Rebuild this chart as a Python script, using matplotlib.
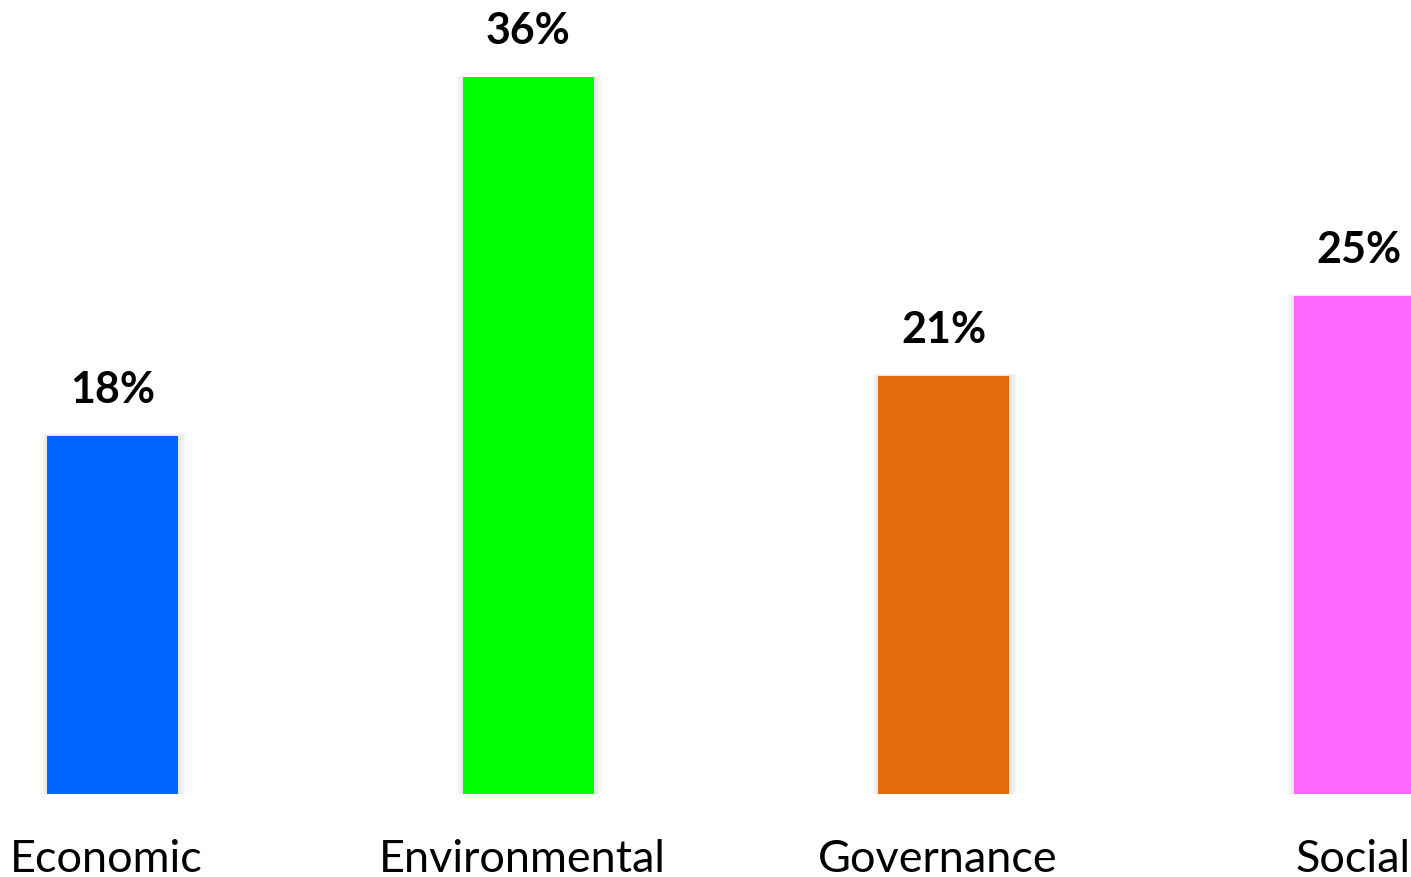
import matplotlib.pyplot as plt

categories = ["Economic", "Environmental", "Governance", "Social"]
values = [18, 36, 21, 25]
colors = ["#0066FF", "#00FF00", "#E36C0A", "#FF66FF"]

plt.rcParams['font.family'] = ['Lato', 'DejaVu Sans']

fig = plt.figure(figsize=(14.11, 8.78), dpi=100)
ax = fig.add_axes([0, 83 / 878, 1, 717 / 878])

x = list(range(len(categories)))
bar_w = 131 / 415.5

# soft shadow around the bars
for i, v in enumerate(values):
    for k in range(1, 7):
        ax.bar(x[i] + 0.002, v + 0.035 * k, width=bar_w + 0.006 * k, bottom=-0.1 * k / 6,
               color="black", alpha=0.016, linewidth=0, zorder=1)

bars = ax.bar(x, values, width=bar_w, color=colors, linewidth=0, zorder=2)

for xi, v in zip(x, values):
    ax.text(xi, v + 1.35, f"{v}%", ha="center", va="bottom", fontsize=31,
            fontweight="bold", color="black", clip_on=False)

for xi, c in zip(x, categories):
    ax.text(xi - 0.014, -3.85, c, ha="center", va="baseline", fontsize=32.4,
            color="black", clip_on=False)

ax.set_xlim(-112.5 / 415.5, (1411 - 112.5) / 415.5)
ax.set_ylim(0, 36)
ax.axis("off")

fig.savefig("out.png", dpi=100)
